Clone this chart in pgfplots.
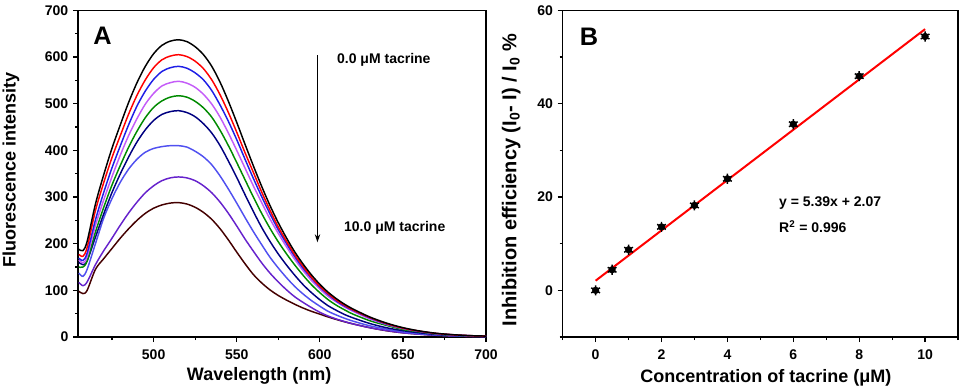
\documentclass[border=0pt]{standalone}
\usepackage{fontspec}
\setmainfont{Liberation Sans}
\usepackage{pgfplots}
\pgfplotsset{compat=1.18}
\usetikzlibrary{arrows.meta}

\definecolor{c_violet}{HTML}{C45CF8}
\definecolor{c_green}{HTML}{008A00}
\definecolor{c_navy}{HTML}{000080}
\definecolor{c_blue}{HTML}{1E1EE6}
\definecolor{c_blueish}{HTML}{5050F0}
\definecolor{c_purple}{HTML}{6622CC}
\definecolor{c_brown}{HTML}{440000}

\pgfplotsset{
  panel/.style={
    scale only axis,
    anchor=south west,
    tick align=outside,
    xtick pos=bottom, ytick pos=left,
    major tick length=3.75pt, minor tick length=2.25pt,
    axis line style={line width=1pt},
    every tick/.style={black, line width=0.9pt},
    /pgf/number format/assume math mode=true,
    tick label style={font=\fontsize{10.5}{12}\selectfont\bfseries},
    xticklabel style={yshift=-2pt},
    label style={font=\fontsize{13.5}{15}\selectfont\bfseries},
  },
  spec/.style={smooth, tension=0.5, no marks, line width=1.1pt},
}

\begin{document}
\begin{tikzpicture}

% ---- panel A: fluorescence spectra, 0 to 10 uM tacrine
\begin{axis}[
  panel,
  at={(58.5pt,39.75pt)},
  width=306pt, height=245pt,
  xmin=454.5, xmax=700, ymin=0, ymax=700,
  xtick={500,550,600,650,700},
  minor xtick={475,525,575,625,675},
  ytick={0,100,...,700},
  minor ytick={50,150,...,650},
  xlabel={Wavelength (nm)},
  ylabel={Fluorescence intensity},
  xlabel style={at={(axis description cs:0.444,-0.119)}, anchor=center},
  ylabel style={at={(axis description cs:-0.164,0.51)}, anchor=center},
]
\addplot[spec, c_brown] coordinates {
 (455,98)(457.5,93)(460,100)(465,145)(470,168)(475,190)(480,212)(485,232)
 (490,250)(495,265)(500,276)(505,283)(510,287)(515,288)(520,285)(525,278)
 (530,267)(535,252)(540,232)(545,208)(550,182)(555,157)(560,134)(565,116)
 (570,101)(575,89)(580,79)(585,70)(590,62)(595,55)(600,49)(605,43)(610,37.5)
 (615,32.5)(620,28)(630,20)(640,13.5)(650,9)(660,6)(670,3.6)(680,2.2)(690,1.4)(700,0.9)};
\addplot[spec, c_purple] coordinates {
 (455,117)(457.5,110)(460,118)(465,155)(470,185)(475,212)(480,240)(485,266)
 (490,289)(495,309)(500,324)(505,335)(510,341)(515,343)(520,341)(525,335)
 (530,324)(535,309)(540,289)(545,265)(550,238)(555,210)(560,184)(565,159)
 (570,137)(575,118)(580,101)(585,86)(590,74)(595,63)(600,53)(605,45)(610,38.5)
 (615,33)(620,28)(630,20)(640,14)(650,9)(660,6)(670,3.8)(680,2.3)(690,1.4)(700,0.9)};
\addplot[spec, c_blueish] coordinates {
 (455,137)(457.5,130)(460,145)(465,200)(470,255)(475,297)(480,332)(485,360)
 (490,381)(495,396)(500,404)(505,408)(510,410)(515,410)(520,407)(525,398)
 (530,386)(535,369)(540,345)(545,317)(550,287)(555,256)(560,226)(565,198)
 (570,171)(575,148)(580,127)(585,108)(590,92)(595,78)(600,66)(605,55)(610,47)
 (615,40)(620,34)(630,24)(640,17)(650,11)(660,7)(670,4.5)(680,2.8)(690,1.7)(700,1.1)};
\addplot[spec, c_navy] coordinates {
 (455,160)(457.5,155)(460,163)(465,214)(470,264)(475,310)(480,350)(485,386)
 (490,418)(495,444)(500,464)(505,477)(510,483)(515,485)(520,481)(525,472)
 (530,457)(535,437)(540,410)(545,377)(550,342)(555,305)(560,269)(565,235)
 (570,205)(575,178)(580,154)(585,132)(590,112)(595,95)(600,80)(605,67)(610,57)
 (615,48)(620,41)(630,29)(640,20)(650,13.5)(660,9)(670,5.5)(680,3.4)(690,2)(700,1.3)};
\addplot[spec, c_green] coordinates {
 (455,150)(457.5,150)(460,163)(465,225)(470,278)(475,326)(480,368)(485,407)
 (490,441)(495,470)(500,492)(505,506)(510,514)(515,517)(520,514)(525,505)
 (530,491)(535,471)(540,443)(545,410)(550,374)(555,337)(560,300)(565,265)
 (570,233)(575,204)(580,178)(585,154)(590,132)(595,112)(600,95)(605,80)(610,68)
 (615,58)(620,49)(630,35)(640,25)(650,16)(660,11)(670,6.5)(680,4)(690,2.5)(700,1.6)};
\addplot[spec, c_violet] coordinates {
 (455,165)(457.5,159)(460,172)(465,239)(470,294)(475,344)(480,390)(485,432)
 (490,468)(495,499)(500,522)(505,538)(510,545)(515,548)(520,544)(525,535)
 (530,520)(535,499)(540,471)(545,437)(550,400)(555,362)(560,324)(565,288)
 (570,253)(575,222)(580,193)(585,166)(590,142)(595,121)(600,103)(605,87)(610,75)
 (615,64)(620,55)(630,39)(640,27)(650,18)(660,12)(670,7)(680,4.5)(690,2.7)(700,1.8)};
\addplot[spec, c_blue] coordinates {
 (455,169)(457.5,164)(460,180)(465,251)(470,310)(475,363)(480,410)(485,455)
 (490,495)(495,527)(500,552)(505,569)(510,577)(515,580)(520,576)(525,566)
 (530,551)(535,528)(540,497)(545,462)(550,423)(555,381)(560,340)(565,301)
 (570,264)(575,230)(580,200)(585,172)(590,147)(595,126)(600,107)(605,91)(610,77)
 (615,66)(620,57)(630,41)(640,28)(650,19)(660,12)(670,7.5)(680,4.7)(690,2.8)(700,1.9)};
\addplot[spec, red] coordinates {
 (455,177)(457.5,173)(460,192)(465,271)(470,331)(475,385)(480,432)(485,478)
 (490,518)(495,551)(500,577)(505,594)(510,602)(515,605)(520,601)(525,591)
 (530,575)(535,551)(540,519)(545,481)(550,439)(555,395)(560,353)(565,311)
 (570,272)(575,236)(580,205)(585,176)(590,151)(595,128)(600,109)(605,93)(610,79)
 (615,68)(620,58)(630,42)(640,29)(650,19)(660,12.5)(670,7.7)(680,4.8)(690,2.9)(700,1.9)};
\addplot[spec, black] coordinates {
 (455,188)(457.5,185)(460,205)(465,285)(470,348)(475,405)(480,455)(485,503)
 (490,545)(495,580)(500,607)(505,625)(510,634)(515,637)(520,633)(525,622)
 (530,605)(535,580)(540,546)(545,505)(550,460)(555,413)(560,367)(565,323)
 (570,282)(575,245)(580,212)(585,182)(590,156)(595,133)(600,113)(605,96)(610,82)
 (615,70)(620,60)(630,43)(640,30)(650,20)(660,13)(670,8)(680,5)(690,3)(700,2)};

\node[font=\fontsize{19}{21}\selectfont\bfseries] at (axis cs:469.3,646) {A};
\node[font=\fontsize{10.5}{12}\selectfont\bfseries, anchor=west] at (axis cs:607.6,593) {0.0 μM tacrine};
\node[font=\fontsize{10.5}{12}\selectfont\bfseries, anchor=west] at (axis cs:611.8,233) {10.0 μM tacrine};
\draw[line width=0.8pt, -{Stealth[length=6pt,width=4pt]}] (axis cs:598.6,604) -- (axis cs:598.6,203);
\end{axis}

% ---- panel B: inhibition efficiency vs concentration, with linear fit
\begin{axis}[
  panel,
  at={(422pt,39.75pt)},
  width=296.5pt, height=245pt,
  xmin=-1, xmax=11, ymin=-10, ymax=60,
  xtick={0,2,...,10},
  minor xtick={-1,1,3,5,7,9,11},
  ytick={0,20,40,60},
  minor ytick={-10,10,30,50},
  xlabel={Concentration of tacrine (μM)},
  ylabel={Inhibition efficiency (I\textsubscript{0}- I) / I\textsubscript{0} \%},
  xlabel style={at={(axis description cs:0.514,-0.125)}, anchor=center},
  ylabel style={at={(axis description cs:-0.13,0.48)}, anchor=center,
                font=\fontsize{15}{17}\selectfont\bfseries},
]
\addplot[red, line width=1.5pt, no marks] coordinates {(0,2.07) (10,55.97)};
\addplot[only marks, mark=*, mark size=2.5pt, black] coordinates {
 (0,0)(0.5,4.4)(1,8.7)(2,13.6)(3,18.2)(4,23.9)(6,35.6)(8,45.9)(10,54.4)};
\addplot[only marks, mark=asterisk, mark size=3.8pt, black, line width=1.1pt] coordinates {
 (0,0)(0.5,4.4)(1,8.7)(2,13.6)(3,18.2)(4,23.9)(6,35.6)(8,45.9)(10,54.4)};

\node[font=\fontsize{19}{21}\selectfont\bfseries] at (axis cs:-0.2,54.4) {B};
\node[font=\fontsize{10.5}{12}\selectfont\bfseries, anchor=west] at (axis cs:5.43,18.7) {y = 5.39x + 2.07};
\node[font=\fontsize{10.5}{12}\selectfont\bfseries, anchor=west] at (axis cs:5.43,13.7) {R\textsuperscript{2} = 0.996};
\end{axis}

\pgfresetboundingbox
\path (0,0) rectangle (735pt,292.5pt);
\end{tikzpicture}
\end{document}
